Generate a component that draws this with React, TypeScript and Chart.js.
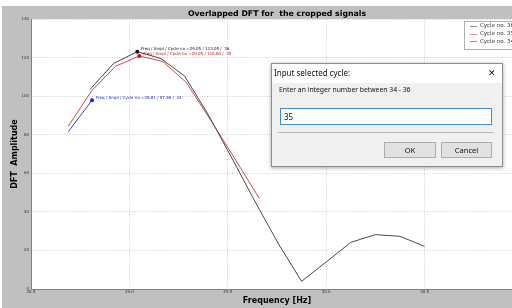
import React, { useEffect, useRef } from "react";
import { Chart, registerables } from "chart.js";

Chart.register(...registerables);

// ---- data ----
const X_TICKS = [28.5, 29.0, 29.5, 30.0, 30.5, 31.0];
const Y_TICKS = [0, 20, 40, 60, 80, 100, 120, 140];

const CYCLES = ["Cycle no. 36", "Cycle no. 35", "Cycle no. 34"];

const FREQ_36 = [28.8, 28.92, 29.04, 29.16, 29.28, 29.4, 29.52, 29.64, 29.76, 29.875, 30.0, 30.125, 30.25, 30.375, 30.5];
const AMPL_36 = [103.5, 117.0, 123.05, 119.5, 110.5, 90.5, 68.0, 45.0, 23.0, 4.0, 14.0, 24.2, 28.2, 27.3, 22.1];

const FREQ_35 = [28.69, 28.81, 28.93, 29.05, 29.17, 29.29, 29.41, 29.53, 29.66];
const AMPL_35 = [84.5, 103.0, 115.5, 120.8, 118.0, 107.0, 88.0, 68.5, 47.0];

const FREQ_34 = [28.69, 28.81];
const AMPL_34 = [81.6, 97.86];

const PEAK_INDEX = [2, 3, 1];
const PEAK_LABELS = [
  "Freq / Ampl / Cycle no =29.05 / 123.05 /  36",
  "Freq / Ampl / Cycle no =29.05 / 120.80 /  35",
  "Freq / Ampl / Cycle no =28.81 / 97.86 /  34",
];

const LINE_COLORS = ["#4a4a4a", "#d04848", "#3a48c8"];
const DOT_COLORS = ["#111111", "#c01010", "#1a28d0"];

const FONT = '"DejaVu Sans", sans-serif';
const UI_FONT = '"Noto Sans", "Open Sans", sans-serif';

const bgPlugin = {
  id: "bg",
  beforeDraw(chart: any) {
    const { ctx, chartArea } = chart;
    ctx.save();
    ctx.fillStyle = "#ffffff";
    ctx.fillRect(chartArea.left, chartArea.top, chartArea.right - chartArea.left, chartArea.bottom - chartArea.top);
    ctx.restore();
  },
};

const peakPlugin = {
  id: "peaks",
  afterDatasetsDraw(chart: any) {
    const { ctx } = chart;
    ctx.save();
    ctx.font = `4px ${FONT}`;
    ctx.textBaseline = "middle";
    ctx.textAlign = "left";
    PEAK_INDEX.forEach((idx, ds) => {
      const el = chart.getDatasetMeta(ds).data[idx];
      if (!el) return;
      ctx.fillStyle = DOT_COLORS[ds];
      ctx.fillText(PEAK_LABELS[ds], el.x + 4, el.y - 2.5);
    });
    ctx.restore();
  },
};

const legendPlugin = {
  id: "customLegend",
  afterDraw(chart: any) {
    const { ctx, chartArea } = chart;
    const left = chartArea.right - 59;
    const top = chartArea.top + 2;
    ctx.save();
    ctx.fillStyle = "#ffffff";
    ctx.strokeStyle = "#b0b0b0";
    ctx.lineWidth = 1;
    ctx.fillRect(left, top, 55, 28);
    ctx.strokeRect(left + 0.5, top + 0.5, 55, 28);
    ctx.font = `5.5px ${FONT}`;
    ctx.textBaseline = "middle";
    chart.data.datasets.forEach((d: any, i: number) => {
      const y = top + 5 + i * 7.7;
      ctx.globalAlpha = 0.6;
      ctx.strokeStyle = d.borderColor;
      ctx.beginPath();
      ctx.moveTo(left + 6, Math.round(y) + 0.5);
      ctx.lineTo(left + 13, Math.round(y) + 0.5);
      ctx.stroke();
      ctx.globalAlpha = 1;
      ctx.fillStyle = "#333";
      ctx.fillText(d.label, left + 16, y);
    });
    ctx.restore();
  },
};

function makeDataset(i: number, fr: number[], am: number[]) {
  return {
    label: CYCLES[i],
    data: fr.map((x, k) => ({ x, y: am[k] })),
    borderColor: LINE_COLORS[i],
    borderWidth: 1,
    tension: 0,
    fill: false,
    pointRadius: fr.map((_, k) => (k === PEAK_INDEX[i] ? 2 : 0)),
    pointBackgroundColor: DOT_COLORS[i],
    pointBorderColor: DOT_COLORS[i],
    pointBorderWidth: 0,
  };
}

function ChartCanvas() {
  const ref = useRef<HTMLCanvasElement | null>(null);
  useEffect(() => {
    if (!ref.current) return;
    const chart = new Chart(ref.current, {
      type: "line",
      data: {
        datasets: [
          makeDataset(0, FREQ_36, AMPL_36),
          makeDataset(1, FREQ_35, AMPL_35),
          makeDataset(2, FREQ_34, AMPL_34),
        ] as any,
      },
      options: {
        responsive: false,
        animation: false,
        events: [],
        layout: { padding: { left: 0, right: 30, top: 0, bottom: 0 } },
        plugins: {
          legend: { display: false },
          tooltip: { enabled: false },
          title: {
            display: true,
            fullSize: false,
            text: "Overlapped DFT for  the cropped signals",
            color: "#000",
            font: { family: FONT, size: 7.8, weight: "bold", lineHeight: 1 },
            padding: { top: 10.5, bottom: 0.7 },
          },
        },
        scales: {
          x: {
            type: "linear",
            min: X_TICKS[0],
            max: X_TICKS[X_TICKS.length - 1],
            afterBuildTicks: (s: any) => {
              s.ticks = X_TICKS.map((v) => ({ value: v }));
            },
            afterFit: (s: any) => {
              s.height = 19;
            },
            ticks: {
              font: { family: FONT, size: 4 },
              color: "#333",
              padding: 1,
              maxRotation: 0,
              autoSkip: false,
              callback: (v: any) => Number(v).toFixed(1),
            },
            grid: { color: "#cfcfcf", lineWidth: 1, drawTicks: false },
            border: { color: "#808080", width: 1, dash: [1, 1.5] },
            title: {
              display: true,
              text: "Frequency [Hz]",
              color: "#000",
              font: { family: FONT, size: 8, weight: "bold", lineHeight: 1 },
              padding: { top: 0, bottom: 3 },
            },
          },
          y: {
            type: "linear",
            min: Y_TICKS[0],
            max: Y_TICKS[Y_TICKS.length - 1],
            afterBuildTicks: (s: any) => {
              s.ticks = Y_TICKS.map((v) => ({ value: v }));
            },
            afterFit: (s: any) => {
              s.width = 31;
            },
            ticks: {
              font: { family: FONT, size: 4 },
              color: "#333",
              padding: 2,
              autoSkip: false,
            },
            grid: { color: "#cfcfcf", lineWidth: 1, drawTicks: false },
            border: { color: "#808080", width: 1, dash: [1, 1.5] },
            title: {
              display: true,
              text: "DFT  Amplitude",
              color: "#000",
              font: { family: FONT, size: 8, weight: "bold", lineHeight: 1 },
              padding: { top: 10.5, bottom: 0 },
            },
          },
        },
      } as any,
      plugins: [bgPlugin, peakPlugin, legendPlugin],
    });
    return () => chart.destroy();
  }, []);
  return <canvas ref={ref} width={553} height={308} style={{ position: "absolute", left: 0, top: 0, width: 553, height: 308 }} />;
}

const abs = (o: any) => ({ position: "absolute" as const, ...o });

export default function App() {
  return (
    <div style={{ position: "fixed", left: 0, top: 0, width: 512, height: 308, overflow: "hidden", background: "#c0c0c0" }}>
      <div style={abs({ left: 0, top: 0, width: 512, height: 6, background: "#fff" })} />
      <div style={abs({ left: 0, top: 0, width: 2, height: 308, background: "#fff" })} />
      <ChartCanvas />
      {/* dialog */}
      <div
        style={abs({
          left: 271,
          top: 63,
          width: 232,
          height: 104,
          background: "#f0f0f0",
          border: "1px solid #8c8c8c",
          boxSizing: "border-box",
          boxShadow: "0 1px 4px rgba(0,0,0,0.35)",
          fontFamily: UI_FONT,
          color: "#111",
        })}
      >
        <div style={abs({ left: 0, top: 0, width: 230, height: 19, background: "#fff" })} />
        <div style={abs({ left: 2, top: 2, height: 14, lineHeight: "14px", fontSize: 8, whiteSpace: "nowrap" })}>Input selected cycle:</div>
        <div style={abs({ left: 214, top: 2, width: 12, height: 14, lineHeight: "14px", fontSize: 9, textAlign: "center" })}>✕</div>
        <div style={abs({ left: 7, top: 20, height: 12, lineHeight: "12px", fontSize: 6.8, whiteSpace: "nowrap" })}>
          Enter an integer number between 34 - 36
        </div>
        <div
          style={abs({
            left: 8,
            top: 44,
            width: 212,
            height: 17,
            boxSizing: "border-box",
            background: "#fff",
            border: "1px solid #3d8ee0",
            fontSize: 8,
            lineHeight: "15px",
            paddingLeft: 3,
          })}
        >
          35
        </div>
        <div style={abs({ left: 6, top: 67.5, width: 216, height: 1, background: "#b8b8b8" })} />
        <div
          style={abs({
            left: 112,
            top: 78,
            width: 52,
            height: 16,
            boxSizing: "border-box",
            background: "#e1e1e1",
            border: "1px solid #adadad",
            fontSize: 7.5,
            lineHeight: "14px",
            textAlign: "center",
          })}
        >
          OK
        </div>
        <div
          style={abs({
            left: 169,
            top: 78,
            width: 51,
            height: 16,
            boxSizing: "border-box",
            background: "#e1e1e1",
            border: "1px solid #adadad",
            fontSize: 7.5,
            lineHeight: "14px",
            textAlign: "center",
          })}
        >
          Cancel
        </div>
      </div>
    </div>
  );
}
